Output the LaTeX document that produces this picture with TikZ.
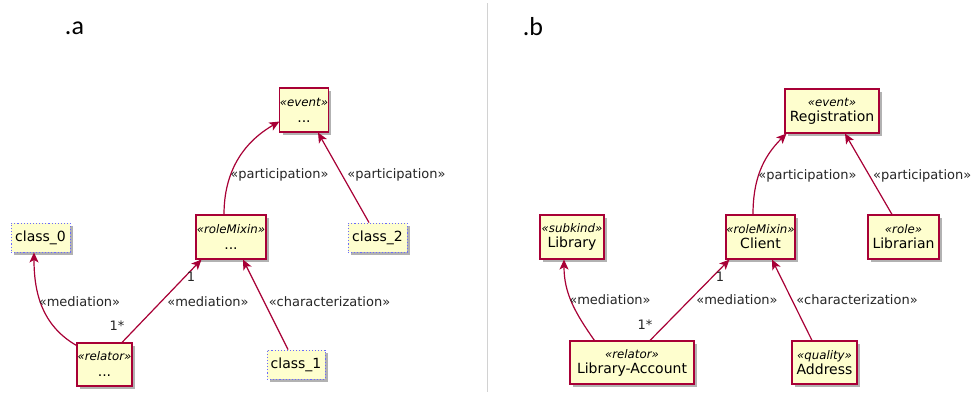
\documentclass[tikz,border=0pt]{standalone}
\usepackage{fontspec}
\setmainfont{DejaVu Sans}
\newfontfamily\titlefont{Carlito}
\usetikzlibrary{arrows.meta,shadows,calc}
\definecolor{umlred}{HTML}{A80036}
\definecolor{umlfill}{HTML}{FEFECE}
\definecolor{umlblue}{HTML}{6A6AFF}
\newcommand\stereo[1]{{\fontsize{11.8}{12}\selectfont\itshape «#1»}}
\begin{document}
\begin{tikzpicture}[x=1pt,y=-1pt,
  cls/.style={draw=umlred, fill=umlfill, line width=1.1pt,
    drop shadow={shadow xshift=3pt,shadow yshift=-3pt,opacity=.3,fill=black},
    align=center, inner sep=0pt, font=\fontsize{14}{15}\selectfont},
  dcls/.style={cls, draw=umlblue, dotted, line width=0.9pt},
  conn/.style={draw=umlred, line width=1.2pt, -{Stealth[length=10pt,width=9pt,inset=2.5pt]}},
  lbl/.style={font=\fontsize{13}{15}\selectfont, inner sep=0pt, text=black!85},
  ttl/.style={font=\titlefont\fontsize{26}{28}\selectfont, inner sep=0pt}]
\useasboundingbox (0,0) rectangle (971,394);
\fill[white] (0,0) rectangle (971,394);
% separator
\coordinate (s1) at (487,3);
\coordinate (s2) at (487,392);
\draw[gray!35, line width=0.8pt] (s1) -- (s2);
% titles
\node[ttl] (ta) at (74.5,28) {.a};
\node[ttl] (tb) at (533,27) {.b};

% ---------- panel a ----------
\node[cls, minimum width=48pt, minimum height=44pt] (ev) at (304,110) {\stereo{event}\\[1pt]...};
\node[cls, minimum width=70pt, minimum height=44pt] (rm) at (231,237) {\stereo{roleMixin}\\[1pt]...};
\node[dcls, minimum width=59pt, minimum height=29pt] (c0) at (40.5,237.5) {class\_0};
\node[dcls, minimum width=59pt, minimum height=29pt] (c2) at (377.5,237.5) {class\_2};
\node[cls, minimum width=55pt, minimum height=43pt] (rl) at (104.5,364.5) {\stereo{relator}\\[1pt]...};
\node[dcls, minimum width=58pt, minimum height=29pt] (c1) at (296,364.5) {class\_1};

\draw[conn] ([xshift=-7pt]rm.north) to[out=90,in=210] ([yshift=11pt]ev.south west);
\draw[conn] ([xshift=-8.5pt]c2.north) -- ([xshift=14pt]ev.south);
\draw[conn] ([yshift=-3pt]rl.north west) to[out=150,in=270] ([xshift=-6.5pt]c0.south);
\draw[conn] ([xshift=17.5pt]rl.north) -- ([xshift=6pt]rm.south west);
\draw[conn] ([xshift=-8pt]c1.north) -- ([xshift=12pt]rm.south);

\node[lbl] (la1) at (279.5,175) {«participation»};
\node[lbl] (la2) at (396.5,175) {«participation»};
\node[lbl] (la3) at (79.5,302) {«mediation»};
\node[lbl] (la4) at (208,302) {«mediation»};
\node[lbl] (la5) at (329.5,302) {«characterization»};
\node[lbl] (la6) at (191,277) {1};
\node[lbl] (la7) at (117,326) {1*};

% ---------- panel b ----------
\node[cls, minimum width=94pt, minimum height=44pt] (reg) at (832,111) {\stereo{event}\\Registration};
\node[cls, minimum width=69pt, minimum height=44pt] (cli) at (760.5,237) {\stereo{roleMixin}\\Client};
\node[cls, minimum width=64pt, minimum height=44pt] (lib) at (572,237) {\stereo{subkind}\\Library};
\node[cls, minimum width=71pt, minimum height=44pt] (lbn) at (903.5,237) {\stereo{role}\\Librarian};
\node[cls, minimum width=124pt, minimum height=43pt] (lac) at (632,362.5) {\stereo{relator}\\Library-Account};
\node[cls, minimum width=65pt, minimum height=43pt] (adr) at (824.5,362.5) {\stereo{quality}\\Address};

\draw[conn] ([xshift=-7.5pt]cli.north) to[out=90,in=225] ([xshift=2pt]reg.south west);
\draw[conn] ([xshift=-11.5pt]lbn.north) -- ([xshift=13pt]reg.south);
\draw[conn] ([xshift=25pt]lac.north west) to[out=125,in=270] ([xshift=-8pt]lib.south);
\draw[conn] ([xshift=18pt]lac.north) -- ([xshift=4pt]cli.south west);
\draw[conn] ([xshift=-12.5pt]adr.north) -- ([xshift=11.5pt]cli.south);

\node[lbl] (lb1) at (807.5,176) {«participation»};
\node[lbl, anchor=west] (lb2) at (873,176) {«participation»};
\node[lbl] (lb3) at (610,300) {«mediation»};
\node[lbl] (lb4) at (737,300) {«mediation»};
\node[lbl] (lb5) at (857,300) {«characterization»};
\node[lbl] (lb6) at (720,277) {1};
\node[lbl] (lb7) at (645,325) {1*};
\end{tikzpicture}
\end{document}
